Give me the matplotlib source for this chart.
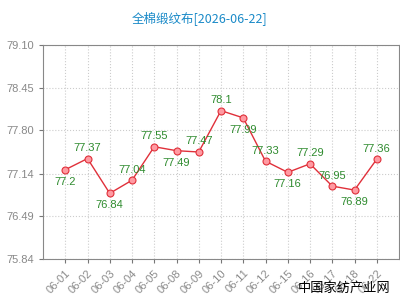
import matplotlib
matplotlib.use("Agg")
import matplotlib.pyplot as plt

dates = ["06-01", "06-02", "06-03", "06-04", "06-05", "06-08", "06-09", "06-10",
         "06-11", "06-12", "06-15", "06-16", "06-17", "06-18", "06-22"]
prices = [77.2, 77.37, 76.84, 77.04, 77.55, 77.49, 77.47, 78.1,
          77.99, 77.33, 77.16, 77.29, 76.95, 76.89, 77.36]
label_above = [False, True, False, True, True, False, True, True,
               False, True, False, True, True, False, True]
yticks = [75.84, 76.49, 77.14, 77.80, 78.45, 79.10]

plt.rcParams["font.family"] = ["Liberation Sans", "Noto Sans CJK SC", "DejaVu Sans"]

fig = plt.figure(figsize=(4, 3), dpi=100)
ax = fig.add_axes([0.1075, 0.1367, 0.89, 0.7133])

x = list(range(len(dates)))
ax.plot(x, prices, color="#e0303a", linewidth=1, marker="o", markersize=5,
        markerfacecolor="#ff9aa2", markeredgecolor="#e0303a", markeredgewidth=0.8, zorder=3)

for i, (v, up) in enumerate(zip(prices, label_above)):
    offset = 4 if up else -5
    ax.annotate(f"{v:g}", (i, v), xytext=(0, offset), textcoords="offset points",
                ha="center", va="bottom" if up else "top", fontsize=8, color="#2e8b2e")

ax.set_xlim(-1, len(dates))
ax.set_ylim(yticks[0], yticks[-1])
ax.set_xticks(x)
ax.set_xticklabels(dates, rotation=45, ha="right", rotation_mode="anchor")
ax.set_yticks(yticks)
ax.set_yticklabels([f"{t:.2f}" for t in yticks])
ax.tick_params(colors="#777777", labelsize=8, length=3, width=0.8)
ax.tick_params(axis="x", labelcolor="#8a8a8a")
ax.tick_params(axis="y", labelcolor="#888888")
ax.grid(True, color="#cccccc", linestyle=":", linewidth=0.8)
ax.set_axisbelow(True)
for spine in ax.spines.values():
    spine.set_color("#888888")
    spine.set_linewidth(0.8)

fig.text(0.5, 0.94, "全棉缎纹布[2026-06-22]", ha="center", va="center",
         fontsize=9, color="#1a8ac8", family=["Noto Sans CJK SC", "DejaVu Sans"])
fig.text(0.975, 0.04, "中国家纺产业网", ha="right", va="center",
         fontsize=9.5, color="black", family=["Noto Sans CJK SC", "DejaVu Sans"])

fig.savefig("out.png", dpi=100)
